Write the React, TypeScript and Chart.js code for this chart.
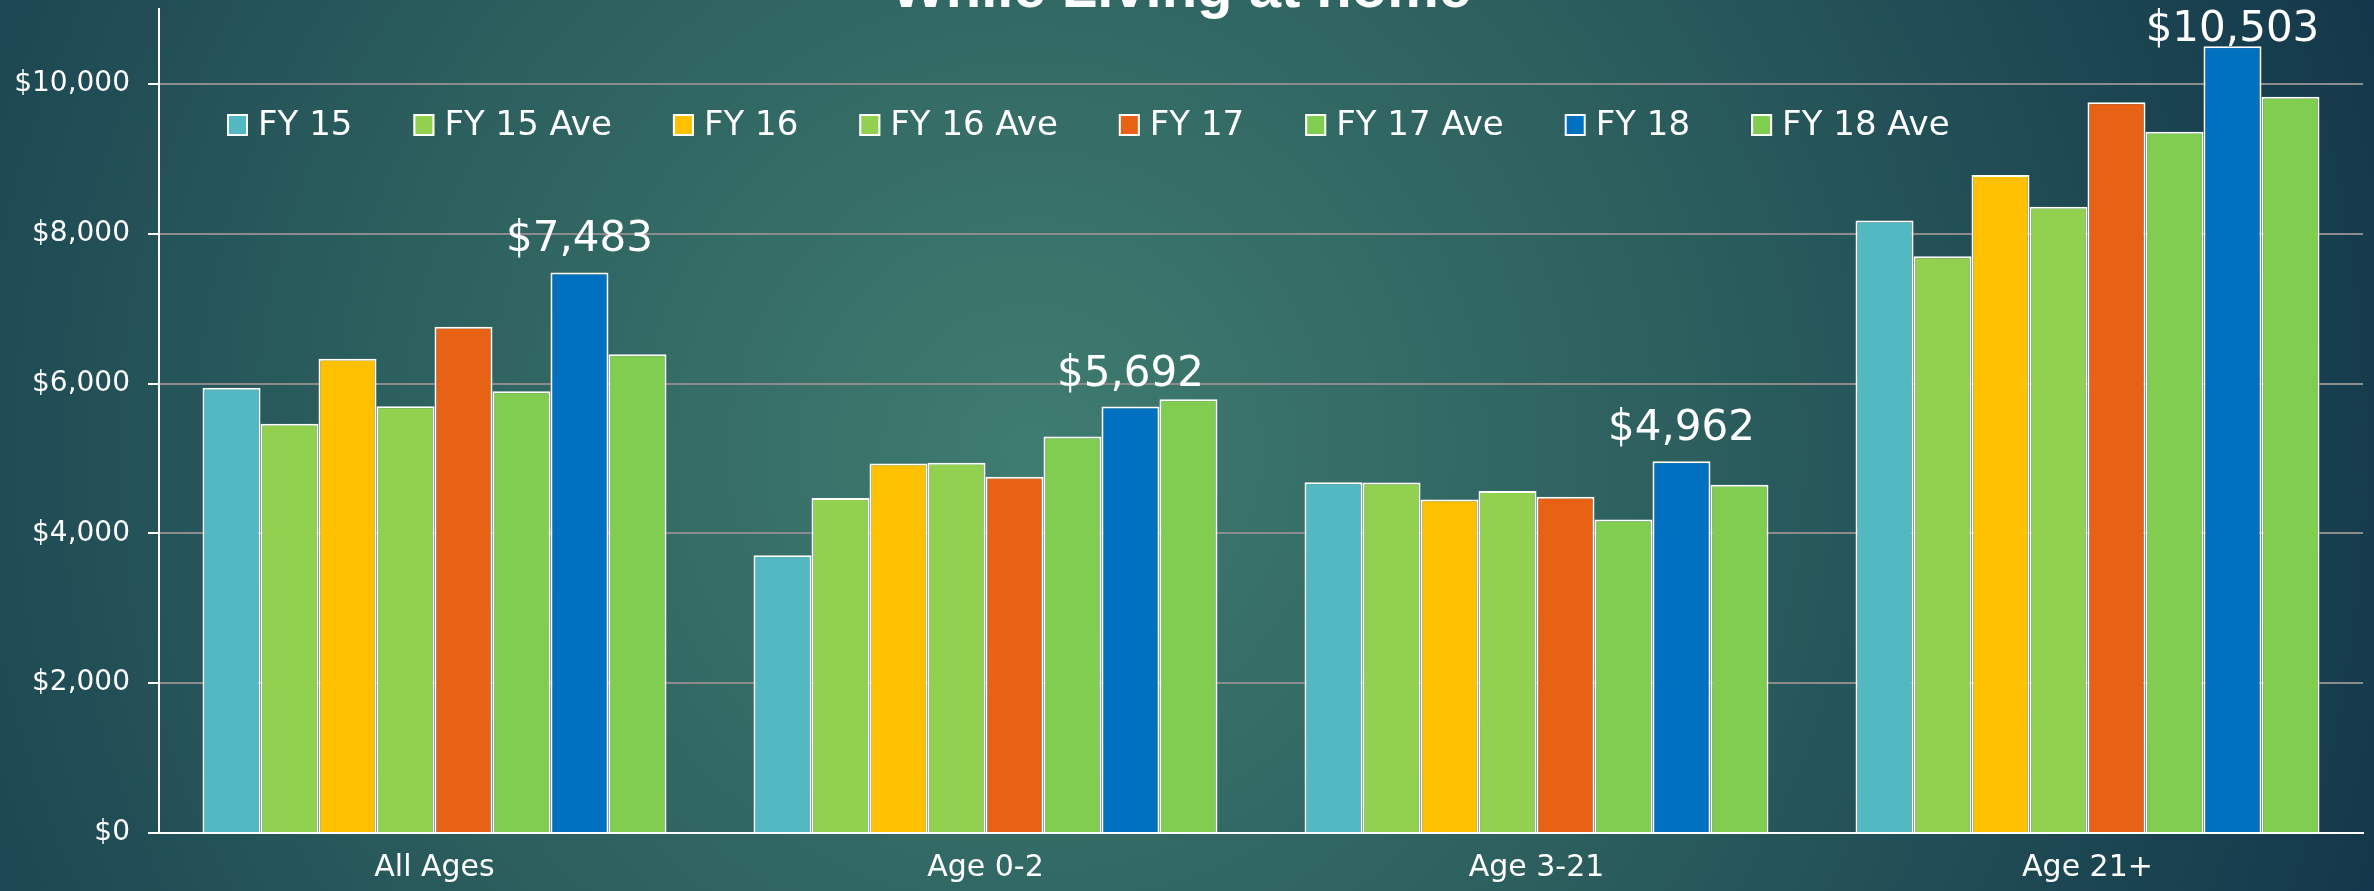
import React, { useEffect, useRef } from 'react';
import { Chart, registerables } from 'chart.js';

Chart.register(...registerables);

const titleText = 'While Living at home';
const categories = ['All Ages', 'Age 0-2', 'Age 3-21', 'Age 21+'];
const seriesNames = ['FY 15', 'FY 15 Ave', 'FY 16', 'FY 16 Ave', 'FY 17', 'FY 17 Ave', 'FY 18', 'FY 18 Ave'];
const fy15 = [5945, 3708, 4684, 8177];
const fy15Ave = [5464, 4473, 4680, 7699];
const fy16 = [6332, 4931, 4453, 8784];
const fy16Ave = [5696, 4942, 4564, 8359];
const fy17 = [6759, 4755, 4488, 9754];
const fy17Ave = [5896, 5294, 4186, 9361];
const fy18 = [7483, 5692, 4962, 10503];
const fy18Ave = [6390, 5792, 4650, 9830];
const yTicks = [0, 2000, 4000, 6000, 8000, 10000];
const labelledSeries = 'FY 18';

const seriesValues = [fy15, fy15Ave, fy16, fy16Ave, fy17, fy17Ave, fy18, fy18Ave];
const seriesColors = ['#52B8C2', '#92D050', '#FFC000', '#92D050', '#E86215', '#80CD4F', '#0070C0', '#80CD4F'];

const FONT = '"DejaVu Sans", sans-serif';
const fmt = (v: number) => '$' + Math.round(v).toLocaleString('en-US');

const backgroundPlugin = {
  id: 'bg',
  beforeDraw(chart: any) {
    const { ctx, width, height } = chart;
    ctx.save();
    const g = ctx.createRadialGradient(1030, 450, 0, 1030, 450, 1450);
    g.addColorStop(0, '#3f7c70');
    g.addColorStop(0.45, '#2c5f5e');
    g.addColorStop(1, '#12364a');
    ctx.fillStyle = g;
    ctx.fillRect(0, 0, width, height);
    ctx.restore();
  },
};

const titlePlugin = {
  id: 'cutTitle',
  afterDraw(chart: any) {
    const { ctx, width } = chart;
    ctx.save();
    ctx.fillStyle = '#ffffff';
    ctx.font = 'bold 58px "Liberation Sans", Arial, sans-serif';
    ctx.textAlign = 'center';
    ctx.textBaseline = 'alphabetic';
    ctx.fillText(titleText, width / 2 - 6, 7);
    ctx.restore();
  },
};

const legendPlugin = {
  id: 'innerLegend',
  afterDraw(chart: any) {
    const { ctx, chartArea } = chart;
    ctx.save();
    ctx.font = `34px ${FONT}`;
    ctx.textBaseline = 'middle';
    ctx.textAlign = 'left';
    let x = chartArea.left + 68;
    const cy = chartArea.top + 116;
    chart.data.datasets.forEach((ds: any) => {
      ctx.fillStyle = ds.backgroundColor;
      ctx.fillRect(x, cy - 11, 21, 22);
      ctx.strokeStyle = '#ffffff';
      ctx.lineWidth = 2;
      ctx.strokeRect(x + 1, cy - 10, 19, 20);
      ctx.fillStyle = '#ffffff';
      const tx = x + 31;
      ctx.fillText(ds.label, tx, cy + 1);
      x = tx + ctx.measureText(ds.label).width + 61;
    });
    ctx.restore();
  },
};

const dataLabelPlugin = {
  id: 'fy18Labels',
  afterDatasetsDraw(chart: any) {
    const { ctx } = chart;
    const idx = chart.data.datasets.findIndex((d: any) => d.label === labelledSeries);
    if (idx < 0) return;
    const meta = chart.getDatasetMeta(idx);
    const data = chart.data.datasets[idx].data;
    ctx.save();
    ctx.font = `42px ${FONT}`;
    ctx.fillStyle = '#ffffff';
    ctx.textAlign = 'center';
    ctx.textBaseline = 'alphabetic';
    meta.data.forEach((el: any, i: number) => {
      const baseline = Math.max(el.y - 21, 41);
      ctx.fillText(fmt(data[i]), el.x, baseline);
    });
    ctx.restore();
  },
};

export default function App() {
  const canvasRef = useRef<HTMLCanvasElement | null>(null);

  useEffect(() => {
    if (!canvasRef.current) return;
    const chart = new Chart(canvasRef.current, {
      type: 'bar',
      data: {
        labels: categories,
        datasets: seriesNames.map((name, i) => ({
          label: name,
          data: seriesValues[i],
          backgroundColor: seriesColors[i],
          borderColor: '#ffffff',
          borderWidth: 2,
          categoryPercentage: 0.842,
          barPercentage: 1.0,
        })),
      },
      options: {
        animation: false,
        responsive: false,
        maintainAspectRatio: false,
        devicePixelRatio: 1,
        layout: { padding: { top: 9, right: 11, left: 0, bottom: 0 } },
        plugins: {
          legend: { display: false },
          title: { display: false },
          tooltip: { enabled: false },
        },
        scales: {
          x: {
            grid: { display: false, drawTicks: false },
            border: { display: true, color: '#ffffff', width: 2 },
            ticks: {
              color: '#ffffff',
              font: { family: FONT, size: 30 },
              padding: 17,
            },
            afterFit(scale: any) {
              scale.height = 58;
              scale.paddingLeft = 0;
              scale.paddingRight = 0;
            },
          },
          y: {
            min: 0,
            max: 11000,
            ticks: {
              stepSize: 2000,
              color: '#ffffff',
              font: { family: FONT, size: 28 },
              padding: 18,
              callback: (v: any) => fmt(Number(v)),
            },
            afterBuildTicks(scale: any) {
              scale.ticks = yTicks.map((v) => ({ value: v }));
            },
            grid: {
              color: (c: any) => (c.tick && c.tick.value === 0 ? '#ffffff' : '#8c8c8c'),
              lineWidth: 2,
              tickColor: '#ffffff',
              tickLength: 11,
              drawTicks: true,
            },
            border: { display: true, color: '#ffffff', width: 2 },
            afterFit(scale: any) {
              scale.width = 159;
              scale.paddingTop = 0;
              scale.paddingBottom = 0;
            },
          },
        },
      },
      plugins: [backgroundPlugin, dataLabelPlugin, legendPlugin, titlePlugin],
    } as any);
    return () => chart.destroy();
  }, []);

  return (
    <div style={{ position: 'fixed', left: 0, top: 0, width: 2374, height: 891 }}>
      <canvas ref={canvasRef} width={2374} height={891} style={{ width: 2374, height: 891, display: 'block' }} />
    </div>
  );
}
